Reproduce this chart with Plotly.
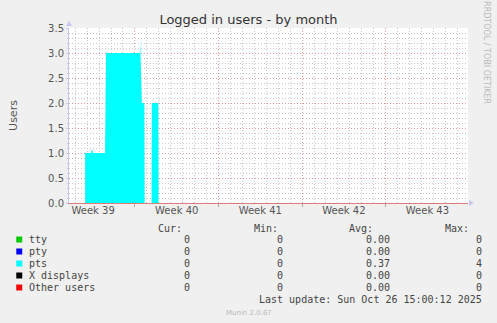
import plotly.graph_objects as go

# ---------------- data ----------------
pts_times = [
    "2025-09-24 20:00", "2025-09-25 08:00", "2025-09-25 08:30", "2025-09-25 11:00",
    "2025-09-25 11:30", "2025-09-26 12:00", "2025-09-26 14:00", "2025-09-29 10:00",
    "2025-09-29 10:30", "2025-09-29 11:00", "2025-09-29 14:00", "2025-09-29 19:00",
    "2025-09-29 19:30", "2025-09-30 09:30", "2025-09-30 10:00", "2025-09-30 23:00",
    "2025-09-30 23:30", "2025-10-26 15:00",
]
pts_values = [
    1.0, 1.0, 1.05, 1.05,
    1.0, 1.0, 3.0, 3.0,
    3.25, 3.0, 2.0, 2.0,
    0.0, 0.0, 2.0, 2.0,
    0.0, 0.0,
]

week_starts = ["2025-09-29", "2025-10-06", "2025-10-13", "2025-10-20"]
week_mids = ["2025-09-25 12:00", "2025-10-02 12:00", "2025-10-09 12:00",
             "2025-10-16 12:00", "2025-10-23 12:00"]
week_labels = ["Week 39", "Week 40", "Week 41", "Week 42", "Week 43"]
x_range = ["2025-09-23 11:30", "2025-10-26 21:30"]

series_names = ["tty", "pty", "pts", "X displays", "Other users"]
series_colors = ["#00cc00", "#0000ff", "#00ffff", "#000000", "#ff0000"]
cur_vals = ["0", "0", "0", "0", "0"]
min_vals = ["0", "0", "0", "0", "0"]
avg_vals = ["0.00", "0.00", "0.37", "0.00", "0.00"]
max_vals = ["0", "0", "4", "0", "0"]

# ---------------- layout geometry ----------------
W, H = 497, 323
L, R, T, B = 67, 468, 28, 203


def px(x):
    return (x - L) / (R - L)


def py(y):
    return (B - y) / (B - T)


fig = go.Figure()
fig.add_trace(go.Scatter(
    x=pts_times, y=pts_values, mode="lines", line=dict(width=0, color="#00ffff"),
    fill="tozeroy", fillcolor="#00ffff", hoverinfo="skip", showlegend=False,
))
# invisible helper trace for label axis
fig.add_trace(go.Scatter(x=[x_range[0]], y=[0], xaxis="x2", mode="markers",
                         marker=dict(opacity=0), showlegend=False, hoverinfo="skip"))

lab_font = dict(family="DejaVu Sans", size=10, color="#555555")
mono = dict(family="DejaVu Sans Mono", size=10, color="#444444")
DOT = "1px,2px"

fig.update_layout(
    width=W, height=H,
    margin=dict(l=L, r=W - R, t=T, b=H - B, pad=0),
    paper_bgcolor="#f0f0f0", plot_bgcolor="#ffffff",
    showlegend=False,
    title=dict(text="Logged in users - by month", x=0.5, xanchor="center",
               y=1 - 19 / H, yanchor="middle",
               font=dict(family="DejaVu Sans", size=13, color="#333333")),
    xaxis=dict(
        type="date", range=x_range, tickvals=week_starts, showticklabels=False,
        showgrid=True, gridcolor="#e39a9a", griddash=DOT, gridwidth=1,
        ticks="outside", ticklen=3, tickcolor="#aaaaaa",
        showline=True, linecolor="#e07a7a", linewidth=1,
        zeroline=False,
        minor=dict(dtick=86400000, tick0="2025-09-22", showgrid=True,
                   gridcolor="#c8c8c8", griddash=DOT, gridwidth=1, ticks=""),
        layer="above traces",
    ),
    xaxis2=dict(
        type="date", overlaying="x", matches="x", anchor="y", side="bottom",
        tickvals=week_mids, ticktext=week_labels, showgrid=False, ticks="",
        showline=False, zeroline=False, tickfont=lab_font,
    ),
    yaxis=dict(
        range=[0, 3.5], dtick=0.5, tick0=0, tickformat=".1f",
        showgrid=True, gridcolor="#e39a9a", griddash=DOT, gridwidth=1,
        ticks="outside", ticklen=2, tickcolor="#c8c8f0",
        showline=True, linecolor="#c8c8f0", linewidth=1, zeroline=False,
        tickfont=lab_font,
        title=dict(text="Users", font=dict(family="DejaVu Sans", size=11, color="#555555"),
                   standoff=28),
        minor=dict(dtick=0.1, showgrid=True, gridcolor="#c8c8c8", griddash=DOT,
                   gridwidth=1, ticks="outside", ticklen=1, tickcolor="#c8c8f0"),
        layer="above traces",
    ),
)

annotations = []
shapes = []


def text(x, y, s, font, xanchor="left"):
    annotations.append(dict(x=px(x), y=py(y), xref="paper", yref="paper", text=s,
                            showarrow=False, xanchor=xanchor, yanchor="middle",
                            font=font, borderpad=0))


# table headers
text(182, 228, "Cur:", mono, "right")
text(278, 228, "Min:", mono, "right")
text(374, 228, "Avg:", mono, "right")
text(470, 228, "Max:", mono, "right")

row_y0, row_dy = 239.5, 12
for i, name in enumerate(series_names):
    yy = row_y0 + i * row_dy
    shapes.append(dict(type="rect", xref="paper", yref="paper",
                       x0=px(14), x1=px(20), y0=py(yy - 3), y1=py(yy + 3),
                       fillcolor=series_colors[i], line=dict(width=0)))
    text(26, yy, name, mono)
    text(190, yy, cur_vals[i], mono, "right")
    text(283, yy, min_vals[i], mono, "right")
    text(391, yy, avg_vals[i], mono, "right")
    text(483, yy, max_vals[i], mono, "right")

text(483, 299.5, "Last update: Sun Oct 26 15:00:12 2025", mono, "right")
annotations.append(dict(x=px(248), y=py(313), xref="paper", yref="paper",
                        text="Munin 2.0.67", showarrow=False, xanchor="center",
                        yanchor="middle", borderpad=0,
                        font=dict(family="DejaVu Sans", size=7, color="#bbbbbb")))
annotations.append(dict(x=px(487), y=py(53), xref="paper", yref="paper",
                        text="RRDTOOL / TOBI OETIKER", showarrow=False, textangle=90,
                        xanchor="center", yanchor="middle", borderpad=0,
                        font=dict(family="DejaVu Sans", size=8, color="#bbbbbb")))

# axis arrows
shapes.append(dict(type="path", xref="paper", yref="paper",
                   path=f"M {px(64)} {py(26)} L {px(70)} {py(26)} L {px(67)} {py(21)} Z",
                   fillcolor="#c8c8f0", line=dict(width=0)))
shapes.append(dict(type="path", xref="paper", yref="paper",
                   path=f"M {px(469)} {py(200)} L {px(469)} {py(206)} L {px(474)} {py(203)} Z",
                   fillcolor="#c8c8f0", line=dict(width=0)))

fig.update_layout(annotations=annotations, shapes=shapes)
fig.write_html("out.html")
